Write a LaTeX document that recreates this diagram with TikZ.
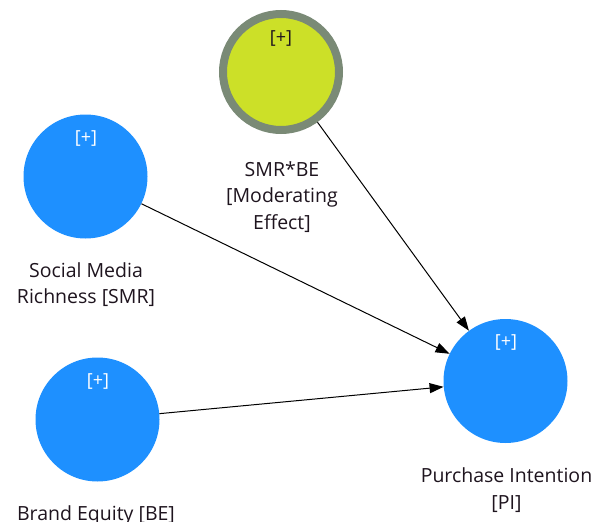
\documentclass[tikz,border=0pt]{standalone}
\usepackage{fontspec}
\setmainfont{Open Sans}
\usetikzlibrary{arrows.meta}
\definecolor{lvblue}{RGB}{30,144,255}
\definecolor{lvgreen}{RGB}{204,224,40}
\definecolor{lvgray}{RGB}{122,138,118}
\definecolor{txt}{RGB}{30,20,30}
\begin{document}
\begin{tikzpicture}[x=1pt,y=-1pt,
  lv/.style={circle,fill=lvblue,minimum size=124pt,inner sep=0pt},
  mod/.style={circle,fill=lvgreen,draw=lvgray,line width=8pt,minimum size=116pt,inner sep=0pt},
  plusw/.style={font=\fontsize{18}{20}\selectfont,text=white,inner sep=0pt},
  plusd/.style={font=\fontsize{18}{20}\selectfont,text=txt,inner sep=0pt},
  lab/.style={font=\fontsize{19.5}{26.5}\selectfont,text=txt,align=center,inner sep=0pt},
  arr/.style={-{Triangle[length=14pt,width=10pt]},line width=1pt,black}]
\useasboundingbox (0,0) rectangle (595,522);
\node[mod] (mbe) at (281,72) {};
\node[lv] (smr) at (85.5,176.5) {};
\node[lv] (be) at (97.5,419.5) {};
\node[lv] (pi) at (505.5,381) {};
\node[plusd] (pmbe) at (281,38) {[+]};
\node[plusw] (psmr) at (86,138) {[+]};
\node[plusw] (pbe) at (98,381) {[+]};
\node[plusw] (ppi) at (506,342) {[+]};
\node[lab] (lmbe) at (282,197) {SMR*BE\\{[Moderating}\\Effect]};
\node[lab] (lsmr) at (86,284.5) {Social Media\\Richness [SMR]};
\node[lab] (lpi) at (506.5,490) {Purchase Intention\\{[PI]}};
\node[lab] (lbe) at (96,515) {Brand Equity [BE]};
\draw[arr] (mbe) -- (pi);
\draw[arr] (smr) -- (pi);
\draw[arr] (be) -- (pi);
\end{tikzpicture}
\end{document}
